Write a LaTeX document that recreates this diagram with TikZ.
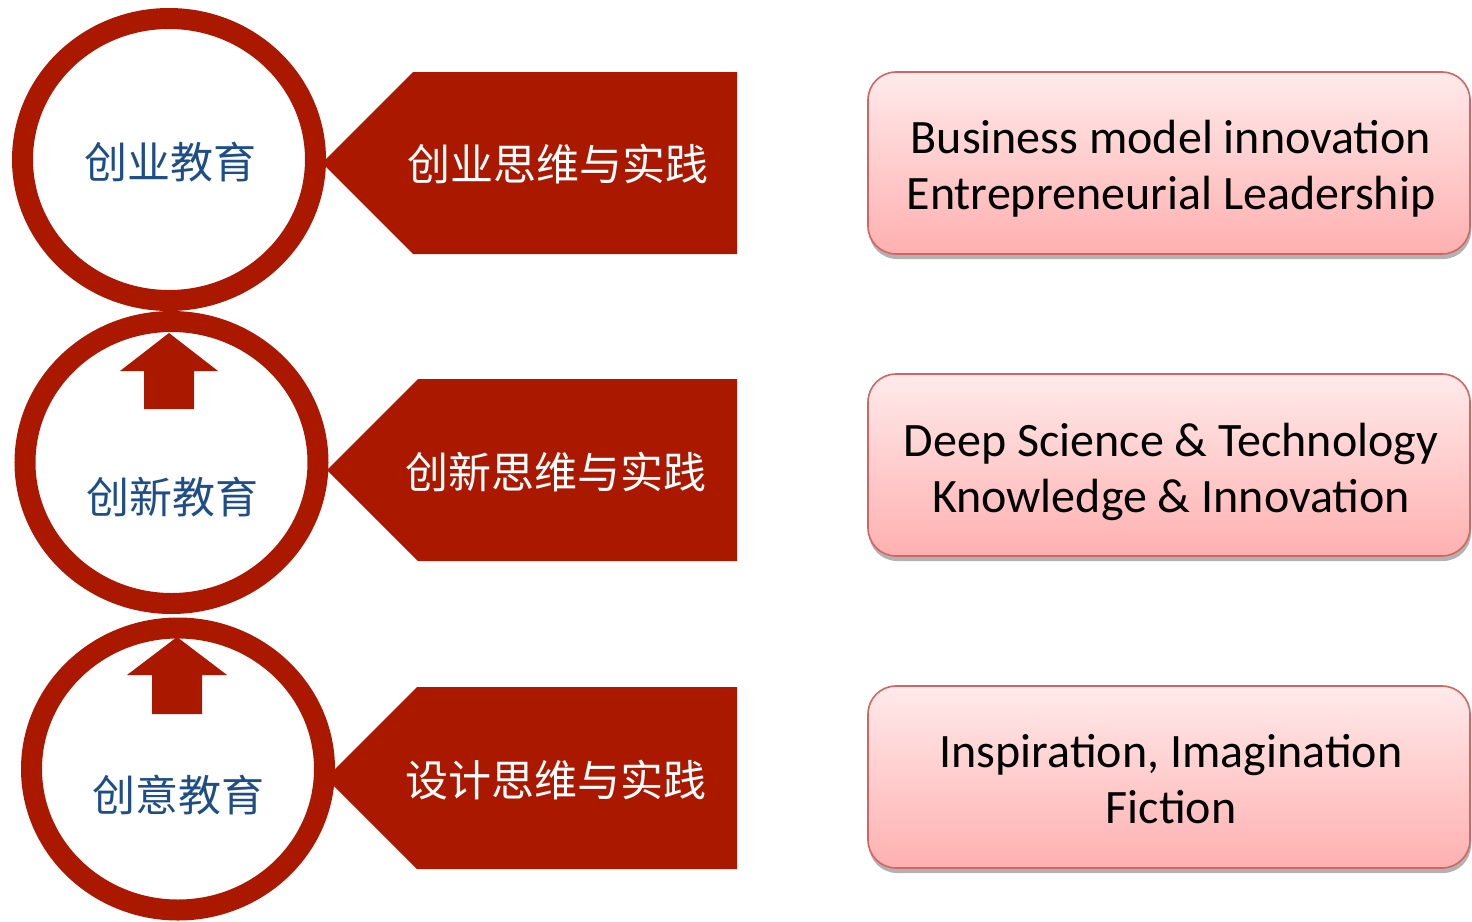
\documentclass[tikz,border=0pt]{standalone}
\usepackage{fontspec}
\setmainfont{Carlito}
\newfontfamily\cjk{Noto Sans CJK SC}
\usetikzlibrary{shapes.geometric,shadows}

\definecolor{ringred}{RGB}{171,24,0}
\definecolor{levelblue}{RGB}{31,78,135}
\definecolor{boxedge}{RGB}{210,100,100}
\definecolor{boxtop}{RGB}{255,234,234}
\definecolor{boxbottom}{RGB}{255,176,176}

\begin{document}
\begin{tikzpicture}[x=0.5pt,y=-0.5pt,
    ring/.style={ellipse,draw=ringred,line width=10.5pt,minimum width=146.5pt,minimum height=141pt,inner sep=0pt},
    level/.style={font=\cjk\fontsize{21.5}{25}\selectfont,text=levelblue,inner sep=0pt},
    practice/.style={font=\cjk\fontsize{21.5}{25}\selectfont,text=white,inner sep=0pt},
    goal/.style={draw=boxedge,line width=0.8pt,rounded corners=14pt,top color=boxtop,bottom color=boxbottom,
        minimum width=301pt,minimum height=91pt,inner sep=0pt,
        drop shadow={shadow xshift=0.5pt,shadow yshift=-2.5pt,fill=black,opacity=0.3}},
    goaltext/.style={align=center,inner sep=0pt,font=\fontsize{24}{28}\selectfont}]
    \useasboundingbox (0,0) rectangle (1472,921);

    % tags
    \fill[ringred] (322,163) -- (413,72) -- (737,72) -- (737,254) -- (413,254) -- cycle;
    \fill[ringred] (327,470) -- (418,379) -- (737,379) -- (737,561) -- (418,561) -- cycle;
    \fill[ringred] (326,778) -- (417,687) -- (737,687) -- (737,869) -- (417,869) -- cycle;

    \node[practice] (tag1) at (558,164) {创业思维与实践};
    \node[practice] (tag2) at (556,472) {创新思维与实践};
    \node[practice] (tag3) at (556,780) {设计思维与实践};

    % rings
    \node[ring] (entre) at (169,159.5) {};
    \node[ring] (innov) at (171.5,462.5) {};
    \node[ring] (creat) at (178,769) {};

    \node[level] (entretext) at (170,162) {创业教育};
    \node[level] (innovtext) at (172,497) {创新教育};
    \node[level] (creattext) at (178,795) {创意教育};

    % up arrows
    \fill[ringred] (169,333) -- (218,371) -- (194,371) -- (194,409) -- (144,409) -- (144,371) -- (120,371) -- cycle;
    \fill[ringred] (177,637) -- (227,675) -- (202,675) -- (202,714) -- (152,714) -- (152,675) -- (127,675) -- cycle;

    % goals
    \node[goal] (goal1) at (1169,163) {};
    \node[goal] (goal2) at (1169,465) {};
    \node[goal] (goal3) at (1169,777) {};

    \node[goaltext] (goal1text) at (1171,169) {Business model innovation\\Entrepreneurial Leadership};
    \node[goaltext] (goal2text) at (1171,472) {Deep Science \& Technology\\Knowledge \& Innovation};
    \node[goaltext] (goal3text) at (1171,779) {Inspiration, Imagination\\Fiction};

\end{tikzpicture}
\end{document}
